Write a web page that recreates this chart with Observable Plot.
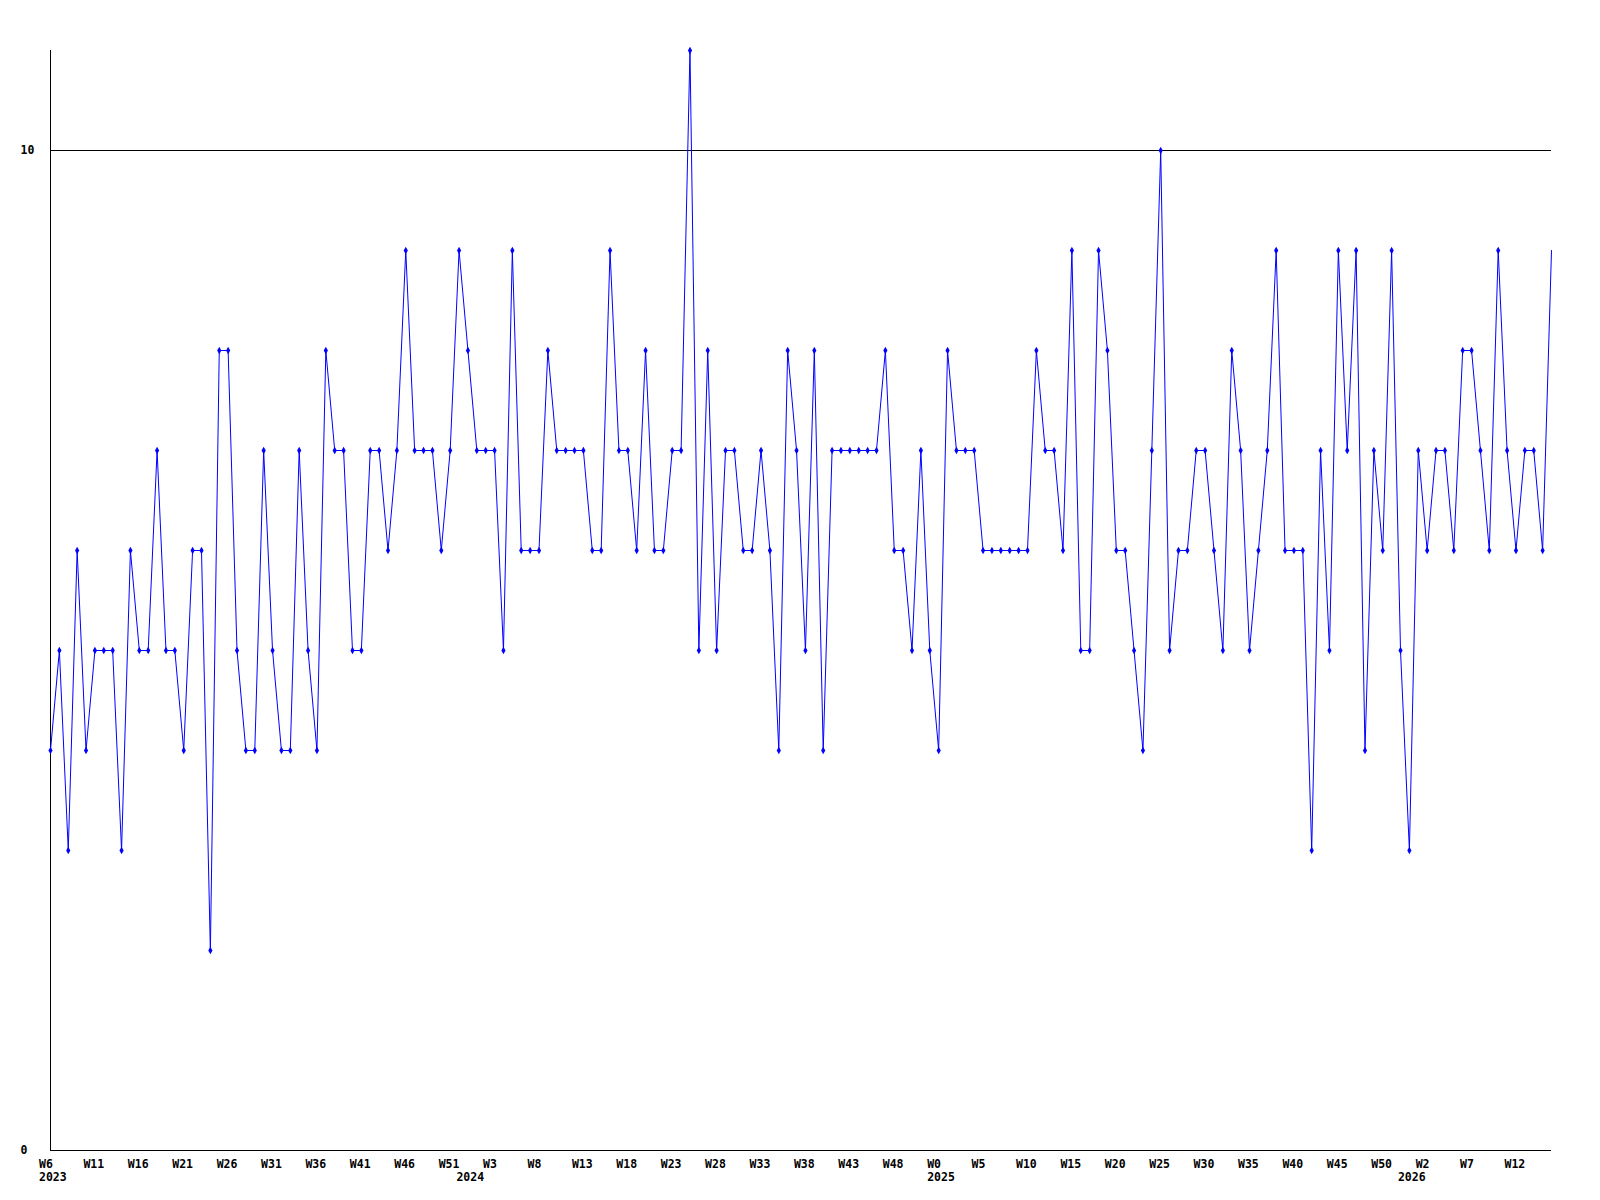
<!DOCTYPE html>
<html>
<head>
<meta charset="utf-8">
<script src="https://cdn.jsdelivr.net/npm/d3@7"></script>
<script src="https://cdn.jsdelivr.net/npm/@observablehq/plot@0.6"></script>
<style>
  html, body { margin: 0; padding: 0; background: #fff; }
  #chart svg { display: block; }
</style>
</head>
<body>
<div id="chart"></div>
<script>
// Weekly values, 2023 W6 through 2026 (one value per week bucket)
const values = [
  4,5,3,6,4,5,5,5,3,6,5,5,7,5,5,4,6,6,2,8,8,5,4,4,7,5,4,4,7,5,4,8,7,7,5,5,7,7,6,7,9,7,7,7,6,
  7,9,8,7,7,7,5,9,6,6,6,8,7,7,7,7,6,6,9,7,7,6,8,6,6,7,7,11,5,8,5,7,7,6,6,7,6,4,8,7,5,8,4,
  7,7,7,7,7,7,8,6,6,5,7,5,4,8,7,7,7,6,6,6,6,6,6,8,7,7,6,9,5,5,9,8,6,6,5,4,7,10,5,6,6,7,7,6,5,
  8,7,5,6,7,9,6,6,6,3,7,5,9,7,9,4,7,6,9,5,3,7,6,7,7,6,8,8,7,6,9,7,6,7,7,6,9
];

// X tick labels: one every 5 weeks
const weekLabels = [
  "W6","W11","W16","W21","W26","W31","W36","W41","W46","W51",
  "W3","W8","W13","W18","W23","W28","W33","W38","W43","W48",
  "W0","W5","W10","W15","W20","W25","W30","W35","W40","W45","W50",
  "W2","W7","W12"
];
const weekTickStep = 5;

// Year labels and the week index at which each year starts
const yearLabels = ["2023","2024","2025","2026"];
const yearStartIndex = [0, 47, 100, 153];

// Y tick labels
const yTicks = [0, 10];
const yGrid = [10];

const data = values.map((v, i) => ({i, v}));
const weekTicks = weekLabels.map((label, k) => ({i: k * weekTickStep, label}));
const yearTicks = yearLabels.map((label, k) => ({i: yearStartIndex[k], label}));

const chart = Plot.plot({
  width: 1600,
  height: 1200,
  marginLeft: 50,
  marginRight: 49,
  marginTop: 50,
  marginBottom: 50,
  style: {
    background: "#fff",
    fontFamily: "'DejaVu Sans Mono', monospace",
    fontSize: "11.5px",
    fontWeight: "bold",
    color: "#000"
  },
  x: {domain: [0, values.length - 1], axis: null},
  y: {domain: [0, 11], axis: null},
  marks: [
    Plot.ruleY(yGrid, {stroke: "#000", strokeWidth: 1, shapeRendering: "crispEdges"}),
    Plot.ruleY([0], {stroke: "#000", strokeWidth: 1, shapeRendering: "crispEdges"}),
    Plot.ruleX([0], {stroke: "#000", strokeWidth: 1, shapeRendering: "crispEdges"}),
    Plot.line(data, {x: "i", y: "v", stroke: "#0000ff", strokeWidth: 1}),
    Plot.dot(data.slice(0, -1), {x: "i", y: "v", symbol: "diamond", r: 2.2, fill: "#0000ff", stroke: "none"}),
    Plot.text(weekTicks, {
      x: "i", text: "label", frameAnchor: "bottom",
      textAnchor: "start", lineAnchor: "top", dx: -11.5, dy: 9, fill: "#000"
    }),
    Plot.text(yearTicks, {
      x: "i", text: "label", frameAnchor: "bottom",
      textAnchor: "start", lineAnchor: "top", dx: -11.5, dy: 22, fill: "#000"
    }),
    Plot.text(yTicks, {
      y: d => d, text: d => String(d), frameAnchor: "left",
      textAnchor: "start", dx: -30, fill: "#000"
    })
  ]
});

document.getElementById("chart").appendChild(chart);
</script>
</body>
</html>
